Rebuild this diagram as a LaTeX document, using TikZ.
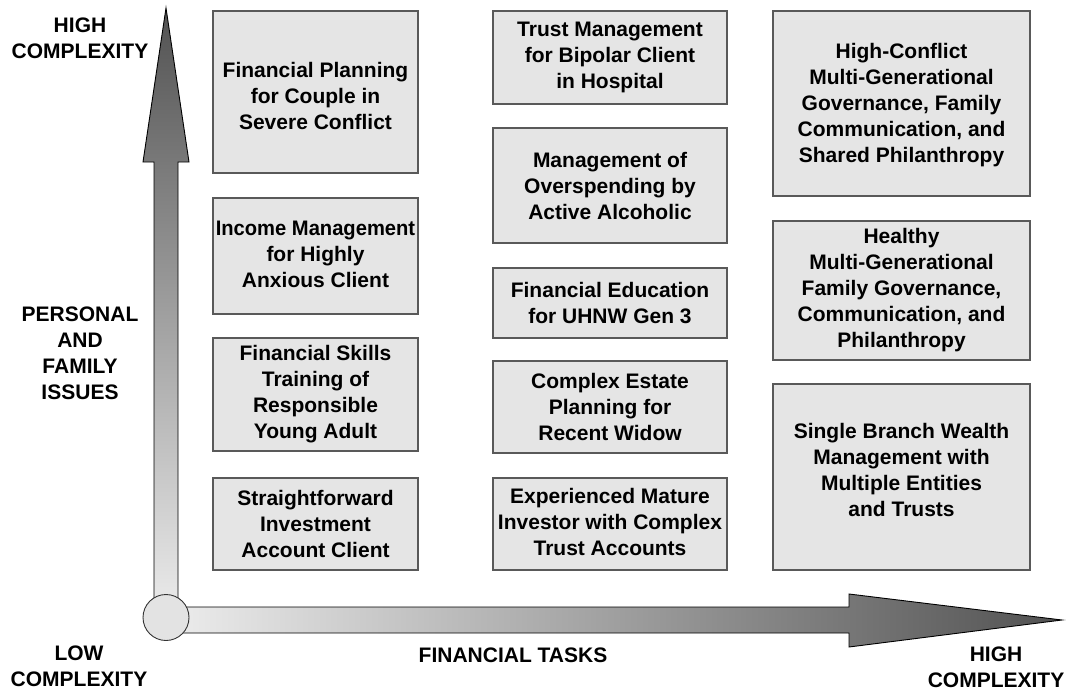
\documentclass[tikz,border=0pt]{standalone}
\usepackage{fontspec}
\setmainfont{Liberation Sans}
\newcommand{\quadbox}[6]{%
  \node[boxshape, minimum width=#2, minimum height=#3] (#1) at (#4) {};
  \node[txt] (#1t) at ([yshift=#5]#1.center) {#6};}
\begin{document}
\begin{tikzpicture}[x=1pt,y=-1pt,
  txt/.style={font=\fontsize{21}{26}\selectfont\bfseries, align=center, text=black, inner sep=0pt},
  boxshape/.style={draw=black!65, line width=1.2pt, fill=black!10, inner sep=0pt},
  axisarrow/.style={draw=black, line width=0.9pt, line join=miter}]
\useasboundingbox (0,0) rectangle (1067,690);
% vertical arrow
\path[axisarrow, top color=black!68, bottom color=black!7]
  (154,620) -- (154,162) -- (143,162) -- (166,8) -- (189,162) -- (178,162) -- (178,620) -- cycle;
% horizontal arrow
\path[axisarrow, left color=black!7, right color=black!68]
  (166,607) -- (849,607) -- (849,594) -- (1062,620) -- (849,647) -- (849,633) -- (166,633) -- cycle;
\node[circle, draw=black!80, line width=0.9pt, fill=black!11, minimum size=46pt, inner sep=0pt] (origin) at (166,617.5) {};
% column 1
\quadbox{b11}{205pt}{162pt}{315.5,92}{-4pt}{Financial Planning\\for Couple in\\Severe Conflict}
\quadbox{b12}{205pt}{116pt}{315.5,256}{2pt}{\scalebox{0.96}[1]{Income Management}\\for Highly\\Anxious Client}
\quadbox{b13}{205pt}{113pt}{315.5,394.5}{0pt}{Financial Skills\\Training of\\Responsible\\Young Adult}
\quadbox{b14}{205pt}{92pt}{315.5,524}{0pt}{Straightforward\\Investment\\Account Client}
% column 2
\quadbox{b21}{234pt}{93pt}{610,57.5}{0pt}{Trust Management\\for Bipolar Client\\in Hospital}
\quadbox{b22}{234pt}{115pt}{610,185.5}{0pt}{Management of\\Overspending by\\Active Alcoholic}
\quadbox{b23}{234pt}{70pt}{610,303}{0pt}{Financial Education\\for UHNW Gen 3}
\quadbox{b24}{234pt}{92pt}{610,407}{0pt}{Complex Estate\\Planning for\\Recent Widow}
\quadbox{b25}{234pt}{92pt}{610,524}{2pt}{Experienced Mature\\Investor with Complex\\Trust Accounts}
% column 3
\quadbox{b31}{257pt}{185pt}{901.5,103.5}{-2pt}{High-Conflict\\Multi-Generational\\Governance, Family\\Communication, and\\Shared Philanthropy}
\quadbox{b32}{257pt}{139pt}{901.5,290.5}{0pt}{Healthy\\Multi-Generational\\Family Governance,\\Communication, and\\Philanthropy}
\quadbox{b33}{257pt}{186pt}{901.5,477}{7pt}{Single Branch Wealth\\Management with\\Multiple Entities\\and Trusts}
% axis labels
\node[txt] (hightop) at (80,38.5) {HIGH\\COMPLEXITY};
\node[txt] (pfi) at (80,353) {PERSONAL\\AND\\FAMILY\\ISSUES};
\node[txt] (low) at (79,666) {LOW\\COMPLEXITY};
\node[txt] (ft) at (513,655) {FINANCIAL TASKS};
\node[txt] (highright) at (996,667) {HIGH\\COMPLEXITY};
\end{tikzpicture}
\end{document}
